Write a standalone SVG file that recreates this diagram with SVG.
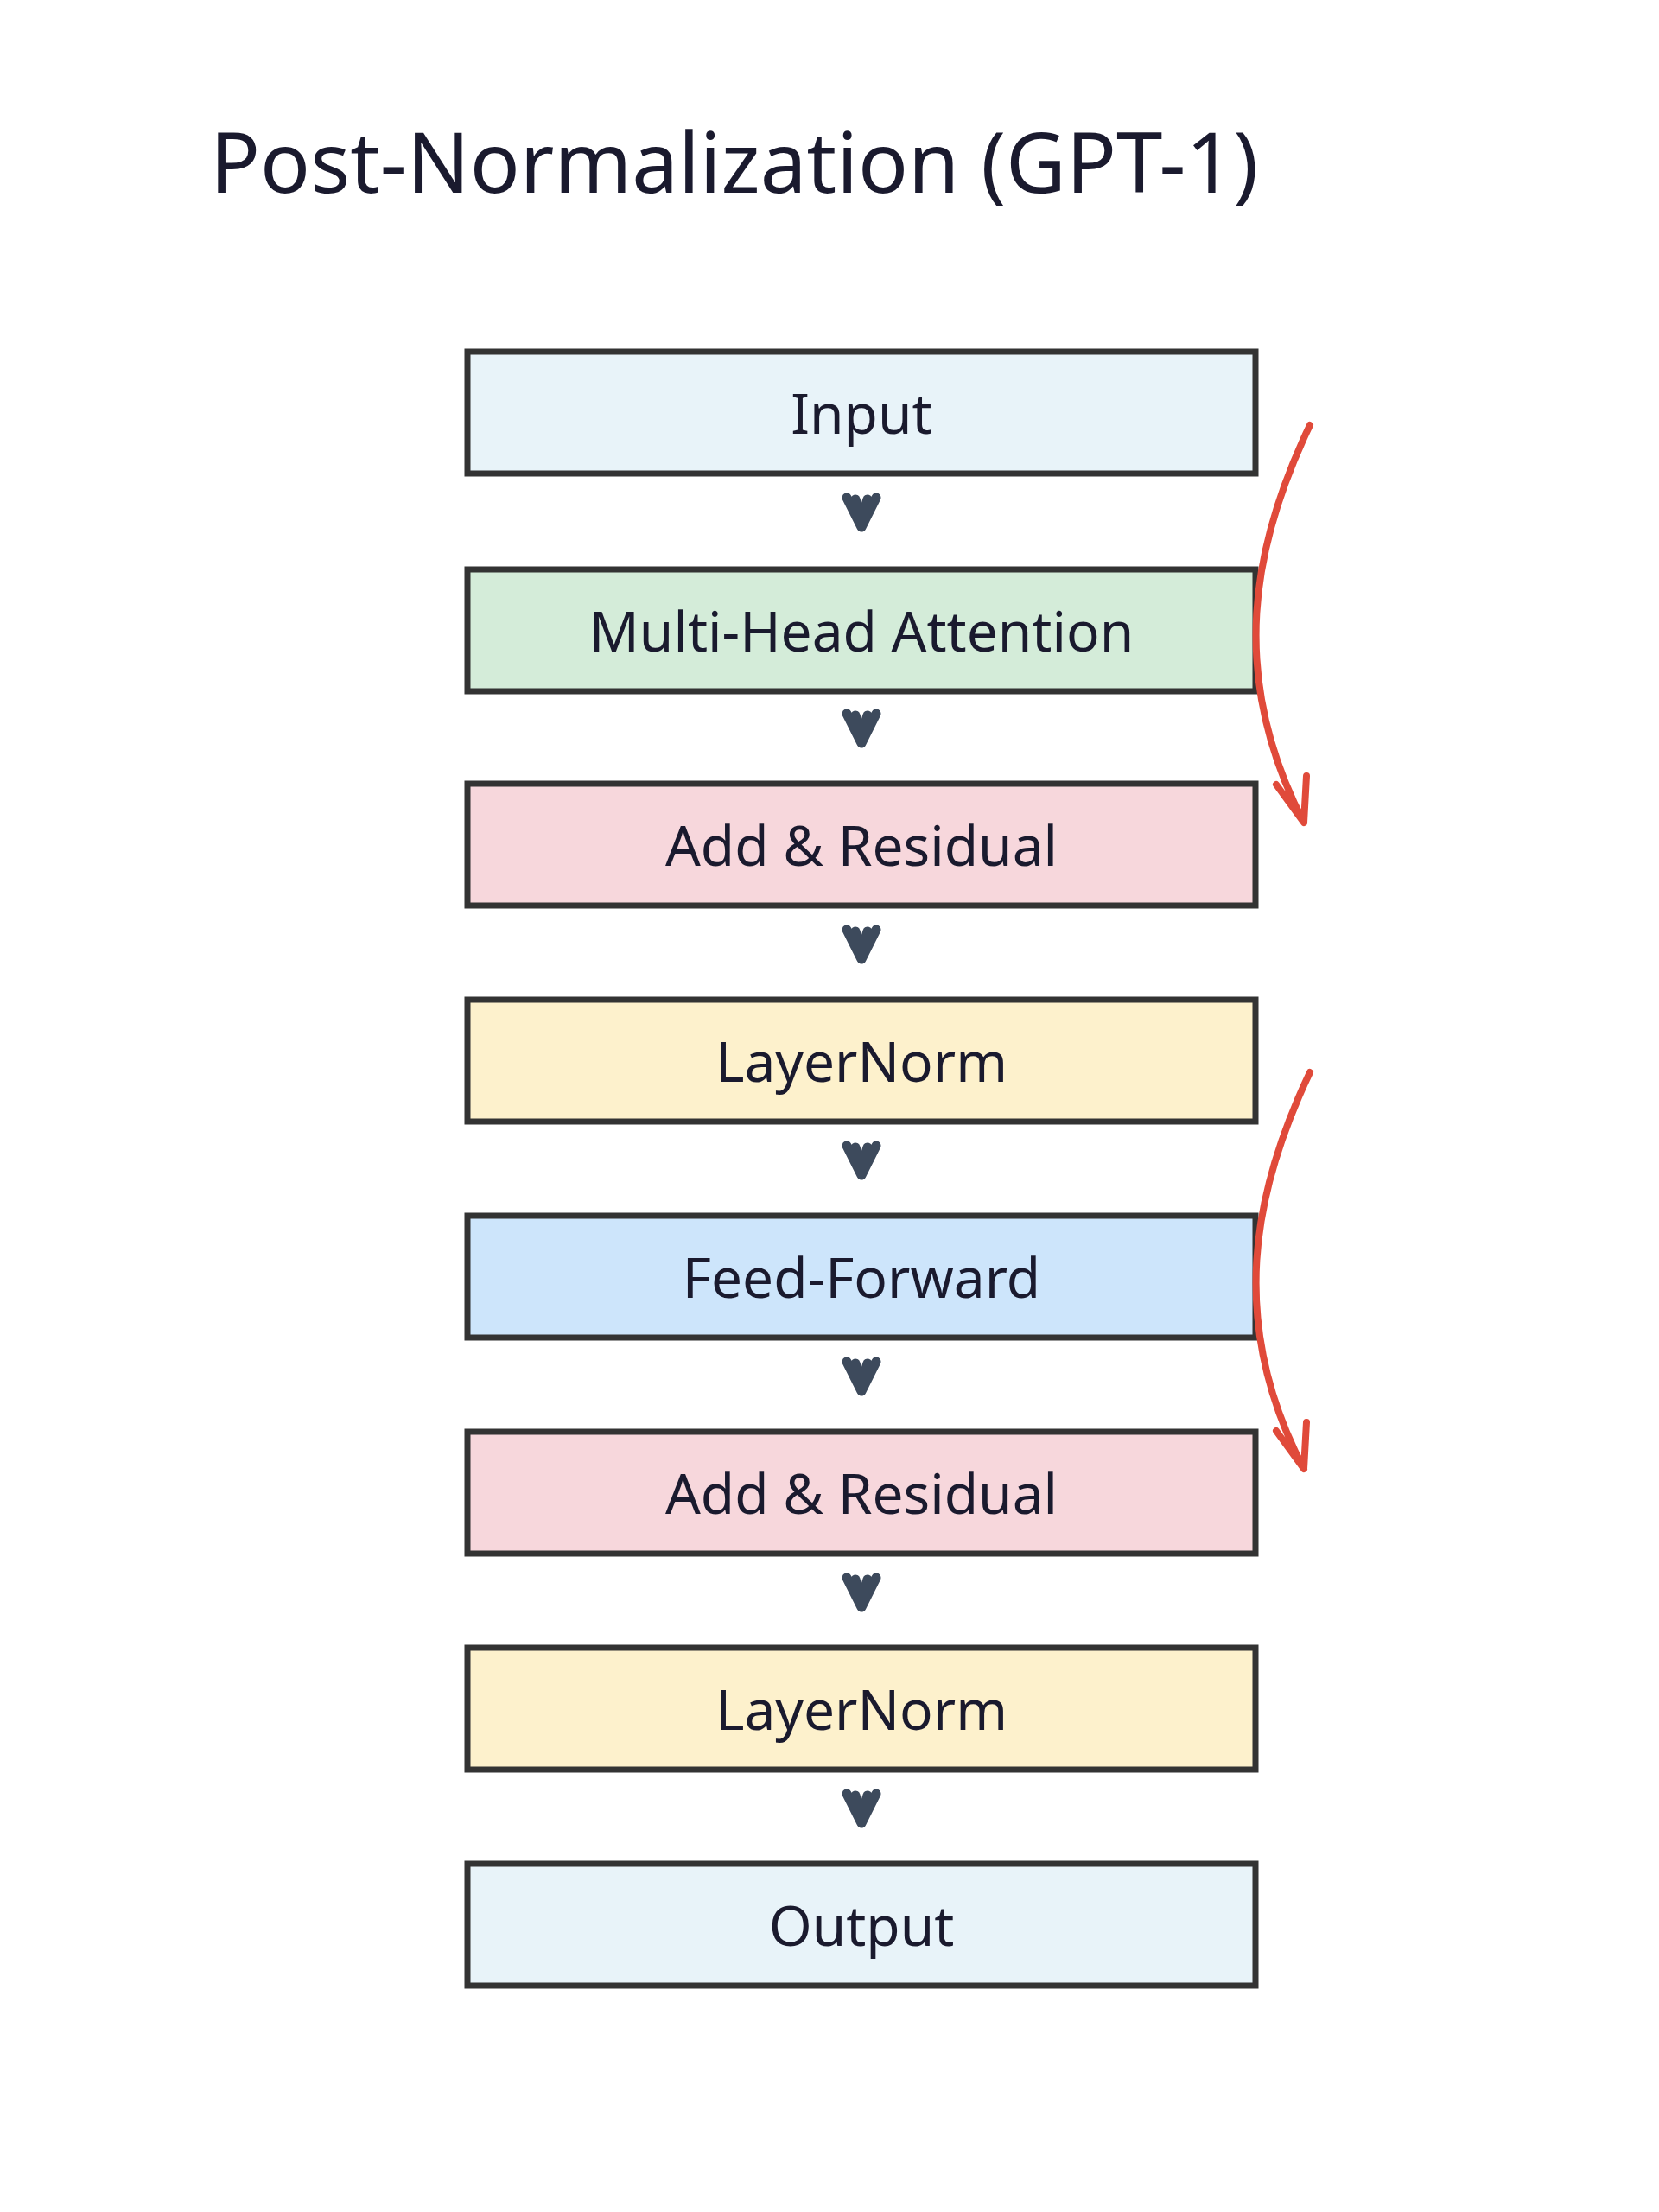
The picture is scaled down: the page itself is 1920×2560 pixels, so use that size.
<svg xmlns="http://www.w3.org/2000/svg" width="1920" height="2560" viewBox="0 0 1920 2560">
<style>
.b{stroke:#333;stroke-width:7}
.t{font-family:"Noto Sans","Noto Sans CJK KR",sans-serif;font-size:64px;fill:#1a1a2e;text-anchor:middle;dominant-baseline:central}
.ch{fill:none;stroke:#3d4a5c;stroke-width:11;stroke-linecap:round;stroke-linejoin:round}
.r{fill:none;stroke:#e04a3a;stroke-width:8;stroke-linecap:round;stroke-linejoin:round}
</style>
<rect width="1920" height="2560" fill="#fff"/>
<text x="243" y="185" font-family="Noto Sans, Noto Sans CJK KR, sans-serif" font-size="96" fill="#1a1a2e" dominant-baseline="central">Post-Normalization (GPT-1)</text>
<g id="n1"><rect class="b" x="541" y="407" width="912" height="141" fill="#e8f3f9"/><text class="t" x="997" y="477">Input</text></g>
<g id="n2"><rect class="b" x="541" y="659" width="912" height="141" fill="#d4ecd9"/><text class="t" x="997" y="729">Multi-Head Attention</text></g>
<g id="n3"><rect class="b" x="541" y="907" width="912" height="141" fill="#f7d7dc"/><text class="t" x="997" y="977">Add &amp; Residual</text></g>
<g id="n4"><rect class="b" x="541" y="1157" width="912" height="141" fill="#fdf1cc"/><text class="t" x="997" y="1227">LayerNorm</text></g>
<g id="n5"><rect class="b" x="541" y="1407" width="912" height="141" fill="#cde5fb"/><text class="t" x="997" y="1477">Feed-Forward</text></g>
<g id="n6"><rect class="b" x="541" y="1657" width="912" height="141" fill="#f7d7dc"/><text class="t" x="997" y="1727">Add &amp; Residual</text></g>
<g id="n7"><rect class="b" x="541" y="1907" width="912" height="141" fill="#fdf1cc"/><text class="t" x="997" y="1977">LayerNorm</text></g>
<g id="n8"><rect class="b" x="541" y="2157" width="912" height="141" fill="#e8f3f9"/><text class="t" x="997" y="2227">Output</text></g>
<g id="connectors">
<path class="ch" d="M980 576 L997 610 L1014 576 M990 578 L997 600 L1004 578"/>
<path class="ch" d="M980 826 L997 860 L1014 826 M990 828 L997 850 L1004 828"/>
<path class="ch" d="M980 1076 L997 1110 L1014 1076 M990 1078 L997 1100 L1004 1078"/>
<path class="ch" d="M980 1326 L997 1360 L1014 1326 M990 1328 L997 1350 L1004 1328"/>
<path class="ch" d="M980 1576 L997 1610 L1014 1576 M990 1578 L997 1600 L1004 1578"/>
<path class="ch" d="M980 1826 L997 1860 L1014 1826 M990 1828 L997 1850 L1004 1828"/>
<path class="ch" d="M980 2076 L997 2110 L1014 2076 M990 2078 L997 2100 L1004 2078"/>
<path class="r" d="M1516 492 C1450 630 1420 780 1509 952 M1477 908 L1509 952 L1512 898"/>
<path class="r" d="M1516 1241 C1450 1380 1420 1530 1509 1700 M1477 1656 L1509 1700 L1512 1646"/>
</g>
</svg>
